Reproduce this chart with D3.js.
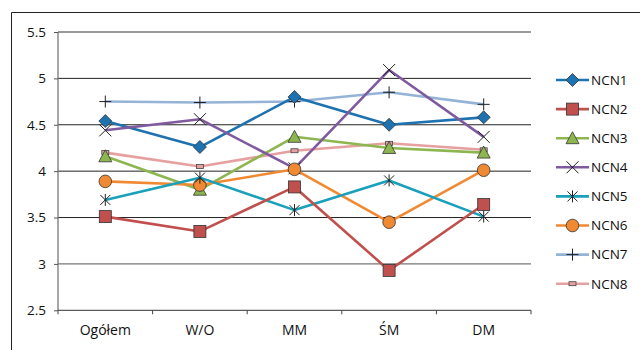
<!DOCTYPE html>
<html><head><meta charset="utf-8">
<script src="https://cdn.jsdelivr.net/npm/d3@7"></script>
<style>body{margin:0;background:#fff}svg{display:block}text{font-family:"Open Sans","Noto Sans",sans-serif;fill:#111}</style>
</head><body><svg id="c" width="640" height="350"></svg>
<script>
const categories = ["Ogółem","W/O","MM","ŚM","DM"];
const seriesNames = ["NCN1","NCN2","NCN3","NCN4","NCN5","NCN6","NCN7","NCN8"];
const ncn1 = [4.54,4.26,4.80,4.50,4.58];
const ncn2 = [3.51,3.35,3.83,2.93,3.64];
const ncn3 = [4.16,3.80,4.37,4.25,4.20];
const ncn4 = [4.44,4.56,4.03,5.09,4.37];
const ncn5 = [3.69,3.93,3.58,3.90,3.51];
const ncn6 = [3.89,3.85,4.02,3.45,4.01];
const ncn7 = [4.75,4.74,4.75,4.85,4.72];
const ncn8 = [4.20,4.05,4.22,4.30,4.23];
const yTicks = [2.5,3,3.5,4,4.5,5,5.5];

const values = [ncn1,ncn2,ncn3,ncn4,ncn5,ncn6,ncn7,ncn8];
const colors = ["#1f72b0","#c0504d","#8db650","#7f5a9e","#1aa0bb","#f08a32","#95b3d7","#e6a0a0"];
const markers = ["diamond","square","triangle","x","star","circle","plus","dash"];

const svg = d3.select("#c");
const L=58,R=531,T=32,B=310.3;
const x = d3.scaleBand().domain(categories).range([L,R]);
const y = d3.scaleLinear().domain([2.5,5.5]).range([B,T]);

// outer border
svg.append("path").attr("d","M11.5,350 V12.5 H640").attr("fill","none").attr("stroke","#222").attr("stroke-width",1);

// gridlines
svg.append("g").selectAll("line").data(yTicks.slice(1)).join("line")
  .attr("x1",L).attr("x2",R).attr("y1",d=>y(d)).attr("y2",d=>y(d))
  .attr("stroke",d=>(d===3||d===5.5)?"#777":"#222").attr("stroke-width",d=>(d===3||d===5.5)?1.3:1);

// y axis
const ya = svg.append("g").attr("transform",`translate(${L},0)`)
  .call(d3.axisLeft(y).tickValues(yTicks).tickFormat(d=>String(d)).tickSize(4).tickPadding(8));
ya.select(".domain").attr("stroke","#777").attr("stroke-width",1.3).attr("d",`M0,${T}V${B}`);
ya.selectAll(".tick line").attr("stroke","#555");
ya.selectAll("text").attr("font-size",13.5).style("font-family","'Open Sans','Noto Sans',sans-serif").attr("fill","#111");

// x axis
const xa = svg.append("g").attr("transform",`translate(0,${B})`)
  .call(d3.axisBottom(x).tickSize(0).tickPadding(15));
xa.select(".domain").attr("stroke","#333").attr("d",`M${L},0H${R}`);
xa.selectAll("text").attr("font-size",14).style("font-family","'Open Sans','Noto Sans',sans-serif").attr("fill","#111");
svg.append("g").selectAll("line").data(d3.range(categories.length+1)).join("line")
  .attr("x1",i=>L+i*x.step()).attr("x2",i=>L+i*x.step()).attr("y1",B).attr("y2",B+4)
  .attr("stroke","#444");

function drawMarker(g,type,color){
  const s="#333";
  switch(type){
    case "diamond": g.append("path").attr("d","M0,-6.5L6.5,0L0,6.5L-6.5,0Z").attr("fill",color).attr("stroke",s).attr("stroke-width",0.8); break;
    case "square": g.append("rect").attr("x",-6).attr("y",-6).attr("width",12).attr("height",12).attr("fill",color).attr("stroke",s).attr("stroke-width",0.8); break;
    case "triangle": g.append("path").attr("d","M0,-6.5L6.5,5.5L-6.5,5.5Z").attr("fill",color).attr("stroke",s).attr("stroke-width",0.8); break;
    case "circle": g.append("circle").attr("r",6.3).attr("fill",color).attr("stroke",s).attr("stroke-width",0.8); break;
    case "x": g.append("path").attr("d","M-6,-6L6,6M-6,6L6,-6").attr("stroke","#222").attr("stroke-width",1); break;
    case "star": g.append("path").attr("d","M-5,-5L5,5M-5,5L5,-5M0,-6V6").attr("stroke","#222").attr("stroke-width",1); break;
    case "plus": g.append("path").attr("d","M-6,0H6M0,-6V6").attr("stroke","#222").attr("stroke-width",1); break;
    case "dash": g.append("rect").attr("x",-3.5).attr("y",-2).attr("width",7).attr("height",4).attr("fill",color).attr("stroke","#444").attr("stroke-width",0.8); break;
  }
}

const line = d3.line().x((d,i)=>x(categories[i])+x.bandwidth()/2).y(d=>y(d));
const order = [6,7,2,0,3,5,4,1];
order.forEach(k=>{
  svg.append("path").datum(values[k]).attr("d",line).attr("fill","none")
    .attr("stroke",colors[k]).attr("stroke-width",2.6).attr("stroke-linejoin","round");
});
order.forEach(k=>{
  values[k].forEach((v,i)=>{
    const g=svg.append("g").attr("transform",`translate(${x(categories[i])+x.bandwidth()/2},${y(v)})`);
    drawMarker(g,markers[k],colors[k]);
  });
});

// legend
const lg = svg.append("g");
seriesNames.forEach((n,k)=>{
  const yy = 80 + k*29.1;
  lg.append("line").attr("x1",556).attr("x2",589).attr("y1",yy).attr("y2",yy).attr("stroke",colors[k]).attr("stroke-width",2.6);
  const g = lg.append("g").attr("transform",`translate(572.5,${yy})`);
  drawMarker(g,markers[k],colors[k]);
  lg.append("text").attr("x",591).attr("y",yy).attr("dy","0.36em").attr("font-size",13.5).text(n);
});
</script></body></html>
